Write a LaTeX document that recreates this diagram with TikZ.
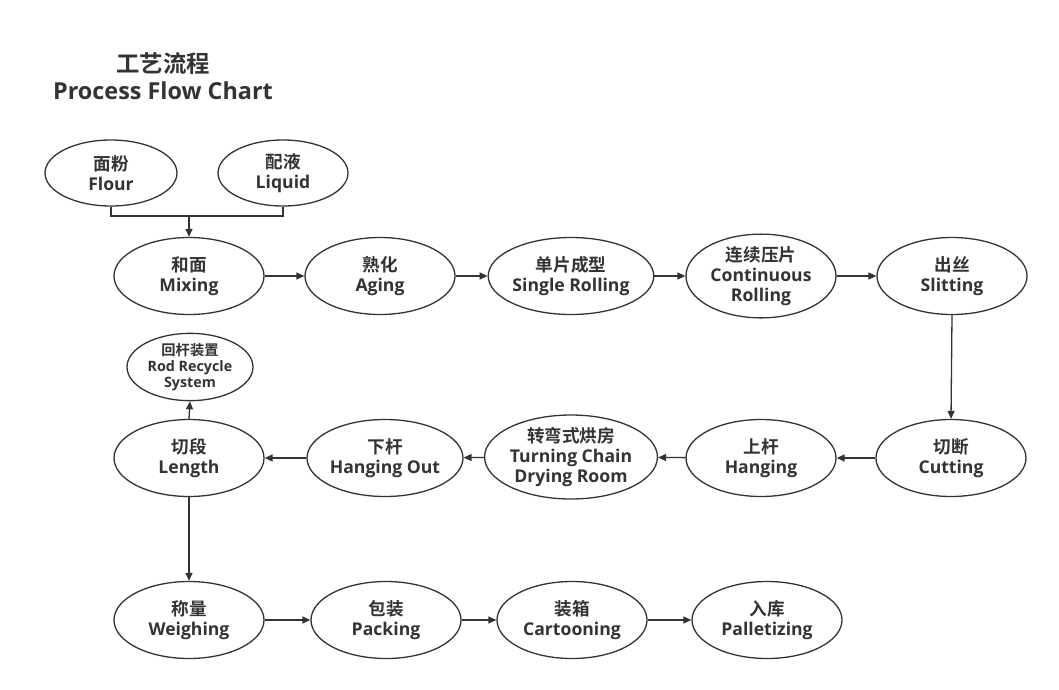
\documentclass[tikz,border=0pt]{standalone}
\usepackage{fontspec}
\setmainfont{Open Sans}
\newfontfamily\cjk{Noto Sans CJK SC}[BoldFont={Noto Sans CJK SC Bold}]
\usetikzlibrary{shapes.geometric,arrows.meta}
\definecolor{ink}{HTML}{333333}
\tikzset{
  proc/.style={ellipse, draw=ink, line width=1.3pt, inner sep=0pt,
    minimum width=150pt, minimum height=77pt, align=center, text=ink,
    font=\fontsize{17.6}{20}\selectfont\bfseries},
  small/.style={proc, minimum width=126pt, minimum height=60pt,
    font=\fontsize{14.3}{16}\selectfont\bfseries},
  conn/.style={draw=ink, line width=1.3pt, -{Triangle[length=8pt,width=7pt]}},
  plain/.style={draw=ink, line width=1.3pt},
  ttl/.style={text=ink, inner sep=0pt, font=\fontsize{23.4}{27}\selectfont\bfseries}
}
\begin{document}
\begin{tikzpicture}[x=1pt,y=-1pt]
\useasboundingbox[fill=white] (0,0) rectangle (1059,689);
% title
\node[ttl] (t1) at (163,64) {\cjk 工艺流程};
\node[ttl] (t2) at (163,91) {Process Flow Chart};
% inputs
\node[proc, minimum width=132pt, minimum height=66pt] (flour) at (111,173) {{\cjk 面粉}\\Flour};
\node[proc, minimum width=130pt, minimum height=66pt] (liquid) at (283,173) {{\cjk 配液}\\Liquid};
% row 1
\node[proc] (mix) at (189,276) {{\cjk 和面}\\Mixing};
\node[proc] (age) at (380,276) {{\cjk 熟化}\\Aging};
\node[proc] (single) at (571,276) {{\cjk 单片成型}\\Single Rolling};
\node[proc] (cont) at (761,276) {{\cjk 连续压片}\\Continuous\\Rolling};
\node[proc] (slit) at (952,276) {{\cjk 出丝}\\Slitting};
% row 2
\node[proc] (cut) at (951,458) {{\cjk 切断}\\Cutting};
\node[proc] (hang) at (761,458) {{\cjk 上杆}\\Hanging};
\node[proc, minimum width=164pt, minimum height=82pt] (dry) at (571,457) {{\cjk 转弯式烘房}\\Turning Chain\\Drying Room};
\node[proc, minimum width=148pt] (hout) at (385,458) {{\cjk 下杆}\\Hanging Out};
\node[proc] (len) at (189,458) {{\cjk 切段}\\Length};
\node[small] (rod) at (190,367) {{\cjk 回杆装置}\\Rod Recycle\\System};
% row 3
\node[proc] (weigh) at (189,620) {{\cjk 称量}\\Weighing};
\node[proc] (pack) at (386,620) {{\cjk 包装}\\Packing};
\node[proc] (carton) at (572,620) {{\cjk 装箱}\\Cartooning};
\node[proc] (pallet) at (767,620) {{\cjk 入库}\\Palletizing};
% merge connector
\coordinate (jl) at (111,216);
\coordinate (jr) at (283,216);
\coordinate (jm) at (189,216);
\draw[plain] (flour.south) -- (jl) -- (jr) -- (liquid.south);
\draw[conn] (jm) -- (mix.north);
% flow
\draw[conn] (mix) -- (age);
\draw[conn] (age) -- (single);
\draw[conn] (single) -- (cont);
\draw[conn] (cont) -- (slit);
\draw[conn] (slit.south) -- (cut.north);
\draw[conn] (cut) -- (hang);
\draw[conn] (hang) -- (dry);
\draw[conn] (dry) -- (hout);
\draw[conn] (hout) -- (len);
\draw[conn] (len.north) -- (rod.south);
\draw[conn] (len.south) -- (weigh.north);
\draw[conn] (weigh) -- (pack);
\draw[conn] (pack) -- (carton);
\draw[conn] (carton) -- (pallet);
\end{tikzpicture}
\end{document}
